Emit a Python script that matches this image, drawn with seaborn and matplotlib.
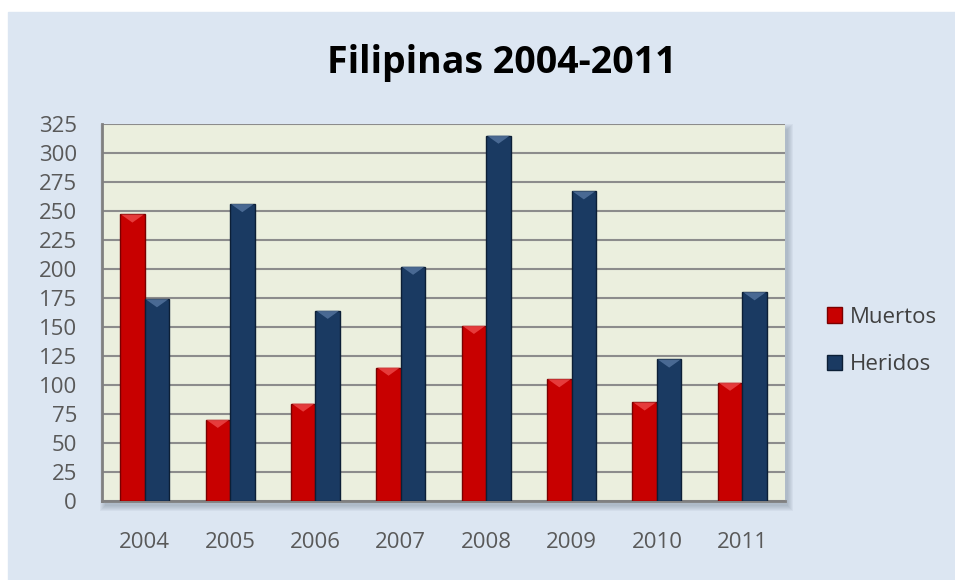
import matplotlib
matplotlib.use("Agg")
import matplotlib.pyplot as plt
import seaborn as sns
import pandas as pd
from matplotlib.patches import Rectangle, Polygon

# data
years = ["2004", "2005", "2006", "2007", "2008", "2009", "2010", "2011"]
muertos = [247, 70, 84, 115, 151, 105, 85, 102]
heridos = [174, 256, 164, 202, 315, 267, 122, 180]
series = ["Muertos", "Heridos"]
colors = {"Muertos": "#C80000", "Heridos": "#1A3A62"}
edges = {"Muertos": "#7A0000", "Heridos": "#0C1F36"}
bevel = {"Muertos": "#EE4A4A", "Heridos": "#5676A0"}

df = pd.DataFrame({
    "Año": years * 2,
    "Valor": muertos + heridos,
    "Serie": ["Muertos"] * len(years) + ["Heridos"] * len(years),
})

sns.set_style("white")
plt.rcParams["font.family"] = ["Open Sans", "DejaVu Sans"]

W, H = 955, 580
fig = plt.figure(figsize=(W / 100, H / 100), dpi=100)
fig.patch.set_facecolor("white")
# light blue chart area
fig.add_artist(Rectangle((8 / W, 0), 1, 1 - 12 / H, transform=fig.transFigure,
                         color="#DCE6F2", zorder=-3))

pos = [102 / W, 1 - 501 / H, 683 / W, 377 / H]
# soft drop shadow behind the plot area (layered for a blur look)
for k in range(6):
    fig.add_artist(Rectangle((pos[0] + (3 - k) / W, pos[1] - (5 + k) / H),
                             pos[2] + 2 * k / W, pos[3] + 2 * k / H,
                             transform=fig.transFigure, color="#6F7C8C",
                             alpha=0.08, lw=0, zorder=-2))

ax = fig.add_axes(pos)
ax.set_facecolor("#EBEFDE")

sns.barplot(data=df, x="Año", y="Valor", hue="Serie", hue_order=series,
            palette=colors, width=0.575, saturation=1, ax=ax, legend=False)

tri_h = 7  # bevel depth in data units
for cont, s in zip(ax.containers, series):
    for bar in cont:
        bar.set_edgecolor(edges[s])
        bar.set_linewidth(1)
        bar.set_zorder(3)
        x0, w, top = bar.get_x(), bar.get_width(), bar.get_height()
        ax.add_patch(Polygon([(x0 + 0.01, top), (x0 + w - 0.01, top), (x0 + w / 2, top - tri_h)],
                             closed=True, facecolor=bevel[s], edgecolor="none", alpha=0.8, zorder=4))

ax.set_ylim(0, 325)
ax.set_yticks(range(0, 326, 25))
ax.set_xlim(-0.5, len(years) - 0.5)
ax.yaxis.grid(True, color="#8C8C8C", linewidth=1.5)
ax.set_axisbelow(True)
ax.set_xlabel("")
ax.set_ylabel("")

for side in ["top", "right"]:
    ax.spines[side].set_visible(False)
for side in ["left", "bottom"]:
    ax.spines[side].set_color("#808080")
    ax.spines[side].set_linewidth(2)

ax.tick_params(axis="y", labelsize=16, colors="#595959", length=0, pad=18)
ax.tick_params(axis="x", labelsize=16, colors="#595959", length=0, pad=22)

handles = [Rectangle((0, 0), 1, 1, facecolor=colors[s], edgecolor=edges[s]) for s in series]
fig.legend(handles, series, loc="center left", bbox_to_anchor=(827 / W, 1 - 341 / H),
           frameon=False, fontsize=16, handlelength=0.68, handleheight=0.68,
           handletextpad=0.35, labelspacing=1.2, borderpad=0, borderaxespad=0,
           labelcolor="#404040")

fig.text(502 / W, 1 - 63 / H, "Filipinas 2004-2011", ha="center", va="center",
         fontsize=27, fontweight="bold", color="black")

fig.savefig("out.png", dpi=100, facecolor=fig.get_facecolor())
